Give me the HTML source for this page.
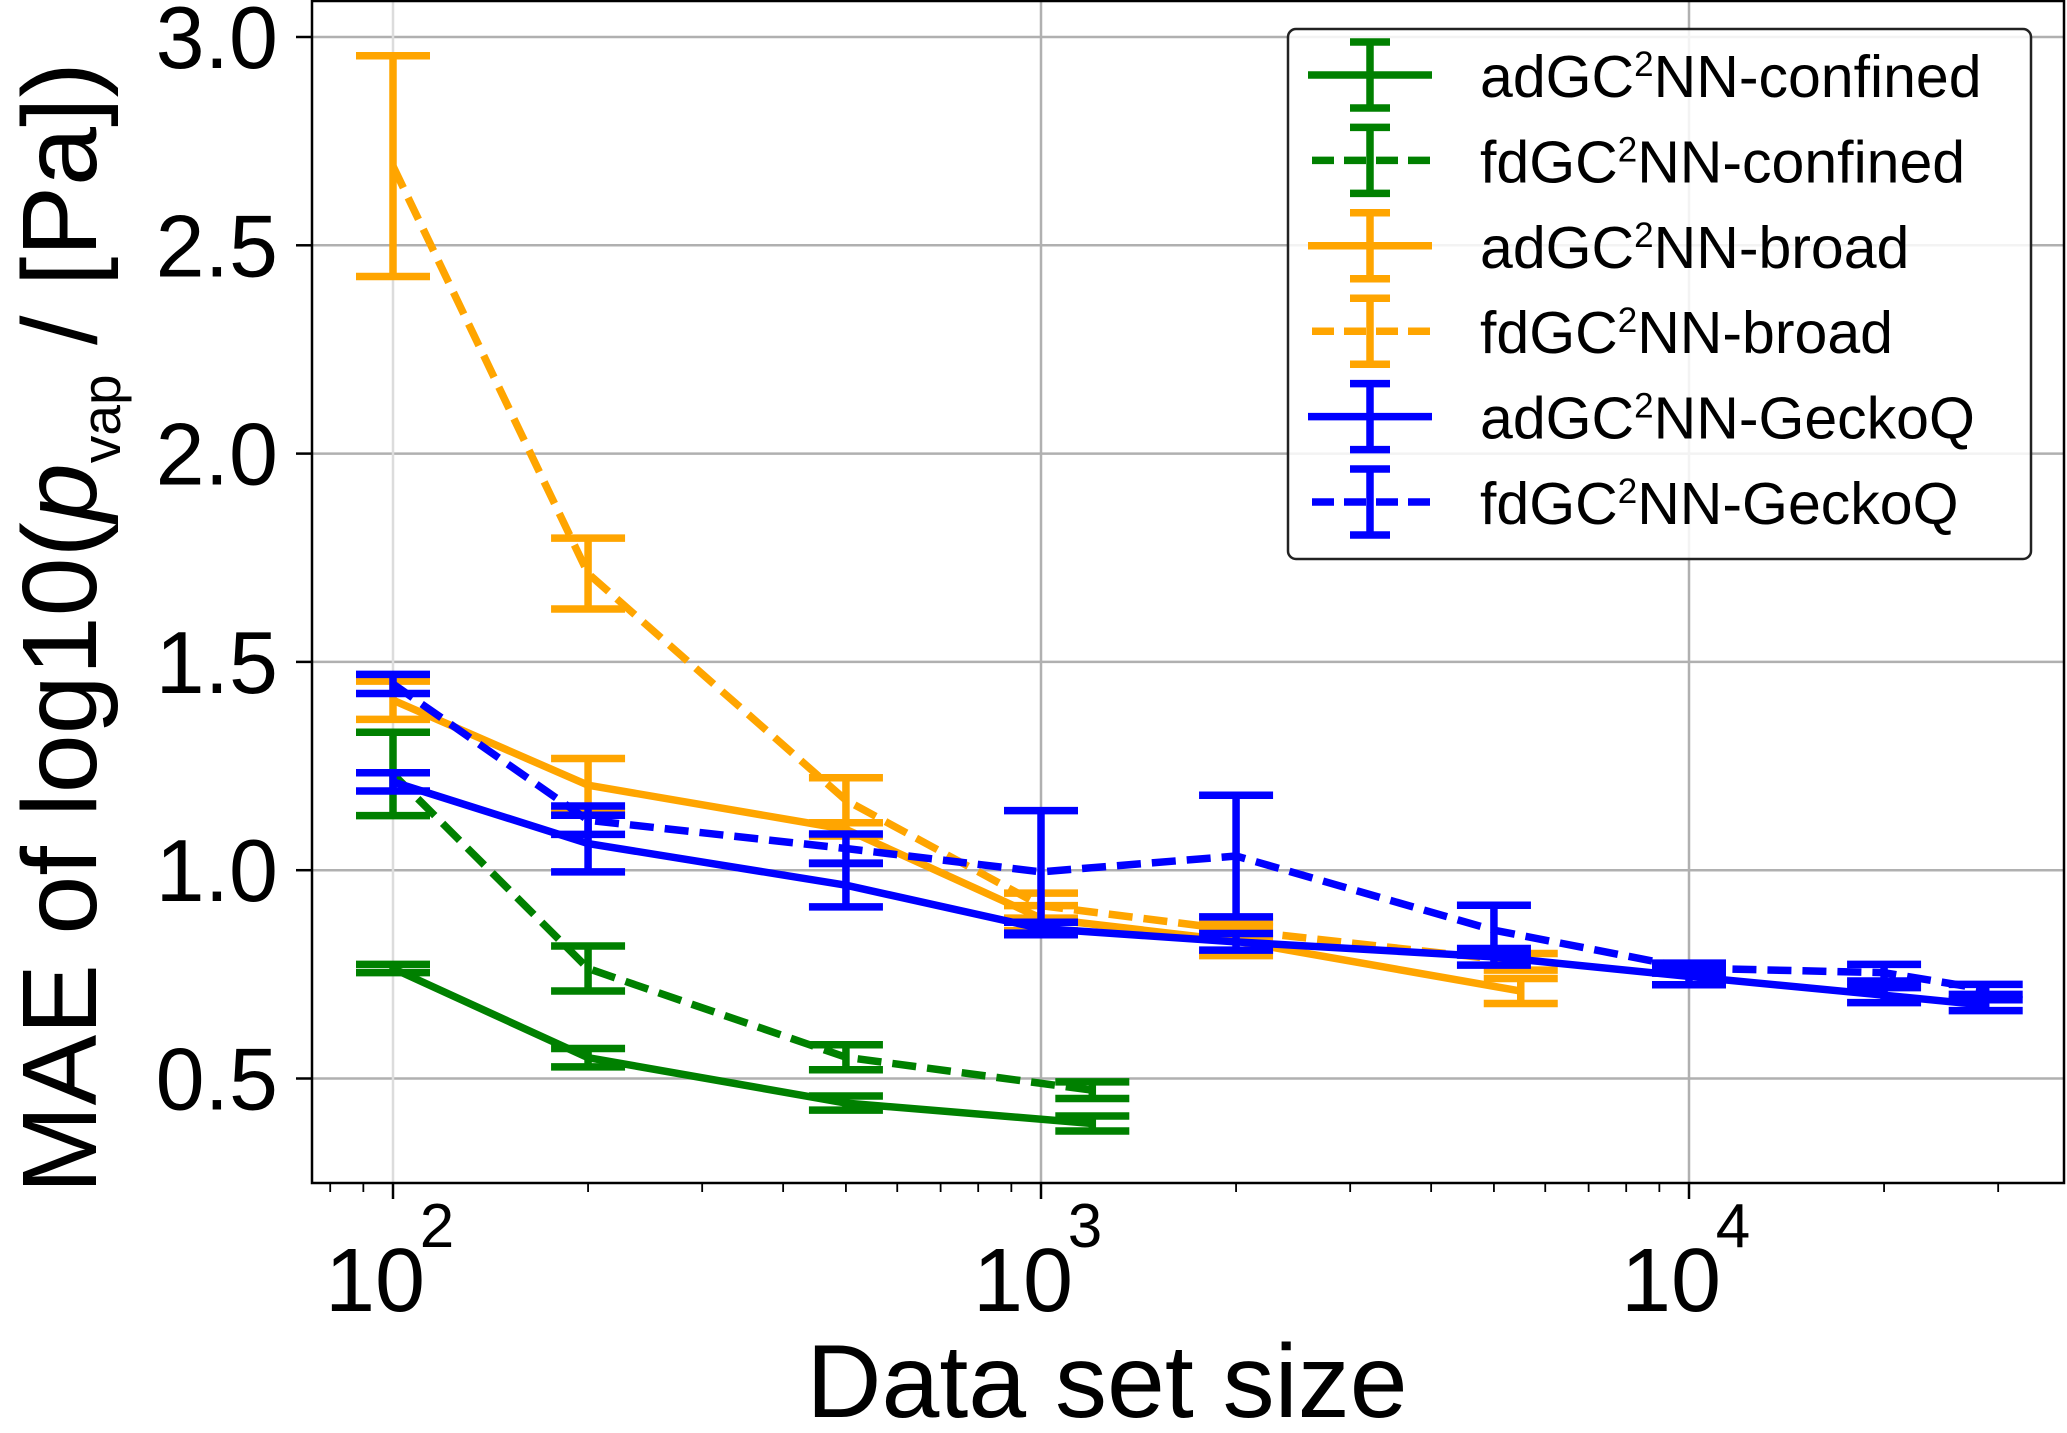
<!DOCTYPE html>
<html><head><meta charset="utf-8"><style>
html,body{margin:0;padding:0;background:#fff;}
svg{display:block;font-family:"Liberation Sans",Arial,sans-serif;}
</style></head><body>
<svg id="chart" width="2067" height="1433" viewBox="0 0 2067 1433" xmlns="http://www.w3.org/2000/svg">
<g id="grid"></g>
<g id="series"></g>
<rect x="312" y="1" width="1752" height="1182" fill="none" stroke="#000" stroke-width="2.5"/>
<g id="ticks"></g>
<text x="1107" y="1417" font-size="104" text-anchor="middle">Data set size</text>
<text transform="translate(96,628) rotate(-90)" font-size="106" text-anchor="middle">MAE of log10(<tspan font-style="italic">p</tspan><tspan font-size="55" dy="24">vap</tspan><tspan dy="-24"> / [Pa])</tspan></text>
<g id="legend"></g>
</svg>
<script>
// ---- data ----
const xGreen = [100, 200, 500, 1200];
const xOrange = [100, 200, 500, 1000, 2000, 5500];
const xBlue = [100, 200, 500, 1000, 2000, 5000, 10000, 20000, 28700];
const adConfined = [0.764, 0.55, 0.441, 0.392];
const adConfinedErr = [0.01, 0.022, 0.017, 0.018];
const fdConfined = [1.231, 0.764, 0.551, 0.472];
const fdConfinedErr = [0.1, 0.054, 0.03, 0.02];
const adBroad = [1.408, 1.204, 1.098, 0.885, 0.83, 0.71];
const adBroadErr = [0.046, 0.064, 0.016, 0.03, 0.035, 0.03];
const fdBroad = [2.69, 1.712, 1.168, 0.915, 0.856, 0.78];
const fdBroadErr = [0.265, 0.085, 0.054, 0.03, 0.02, 0.02];
const adGecko = [1.212, 1.064, 0.964, 0.86, 0.828, 0.792, 0.745, 0.70, 0.676];
const adGeckoErr = [0.022, 0.068, 0.052, 0.015, 0.02, 0.02, 0.02, 0.018, 0.013];
const fdGecko = [1.447, 1.12, 1.052, 0.996, 1.034, 0.856, 0.765, 0.754, 0.714];
const fdGeckoErr = [0.023, 0.034, 0.035, 0.147, 0.146, 0.06, 0.012, 0.02, 0.012];
const yTicks = [0.5, 1.0, 1.5, 2.0, 2.5, 3.0];
const yTickLabels = ["0.5", "1.0", "1.5", "2.0", "2.5", "3.0"];
const xDecades = [2, 3, 4];
const legendLabels = ["confined", "confined", "broad", "broad", "GeckoQ", "GeckoQ"];
const legendPrefixes = ["ad", "fd", "ad", "fd", "ad", "fd"];

// ---- scales ----
const L = 312, R = 2064, T = 1, B = 1183;
function xs(n){ return 393 + Math.log10(n/100) * 648; }
function ys(v){ return 37 + (3.0 - v) * 416.6; }
const NS = "http://www.w3.org/2000/svg";
function mk(tag, attrs, parent){
  const e = document.createElementNS(NS, tag);
  for (const k in attrs) e.setAttribute(k, attrs[k]);
  parent.appendChild(e); return e;
}
const grid = document.getElementById('grid');
const ticks = document.getElementById('ticks');
const ser = document.getElementById('series');
const leg = document.getElementById('legend');
const LW = 7.5;

yTicks.forEach((v, i) => {
  const y = ys(v);
  const g = mk('line', {x1:L, x2:R, y1:y, y2:y, stroke:'#b0b0b0', 'stroke-width':2.5}, grid);
  
  
  const t = mk('line', {x1:L-16, x2:L, y1:y, y2:y, stroke:'#000', 'stroke-width':2.5}, ticks);
  
  
  const lb = mk('text', {x:278, y:y+31, 'font-size':88, 'text-anchor':'end'}, ticks);
  lb.textContent = yTickLabels[i];
  
  
});
xDecades.forEach(d => {
  const x = xs(Math.pow(10, d));
  const g = mk('line', {x1:x, x2:x, y1:T, y2:B, stroke: d===2 ? '#dcdcdc' : '#b0b0b0', 'stroke-width':2.5}, grid);
  
  
  const t = mk('line', {x1:x, x2:x, y1:B, y2:B+16, stroke:'#000', 'stroke-width':2.5}, ticks);
  
  
  const lb = mk('text', {x:x-18, y:1311, 'font-size':90, 'text-anchor':'middle'}, ticks);
  lb.textContent = '10';
  
  
  const ex = mk('text', {x:x+44, y:1247, 'font-size':62, 'text-anchor':'middle'}, ticks);
  ex.textContent = String(d);
  
  
});
for (let d = 1; d <= 4; d++){
  for (let m = 2; m <= 9; m++){
    const n = m * Math.pow(10, d);
    const x = xs(n);
    if (x < L || x > R) continue;
    const t = mk('line', {x1:x, x2:x, y1:B, y2:B+9, stroke:'#000', 'stroke-width':1.8}, ticks);
    
    
  }
}

function drawSeries(name, xsArr, vals, errs, color, dashed){
  const g = mk('g', {}, ser);
  
  
  const pts = xsArr.map((n, i) => xs(n) + ',' + ys(vals[i])).join(' ');
  const pl = mk('polyline', {points:pts, fill:'none', stroke:color, 'stroke-width':LW, 'stroke-linejoin':'round'}, g);
  if (dashed) pl.setAttribute('stroke-dasharray', '24 11');
  
  
  xsArr.forEach((n, i) => {
    const x = xs(n), y1 = ys(vals[i] + errs[i]), y2 = ys(vals[i] - errs[i]);
    const eb = mk('path', {d:`M${x},${y1}V${y2}M${x-37},${y1}H${x+37}M${x-37},${y2}H${x+37}`, stroke:color, 'stroke-width':LW, fill:'none'}, g);
    
    
  });
}
drawSeries('adgc2nn-confined', xGreen, adConfined, adConfinedErr, '#008000', false);
drawSeries('fdgc2nn-confined', xGreen, fdConfined, fdConfinedErr, '#008000', true);
drawSeries('adgc2nn-broad', xOrange, adBroad, adBroadErr, '#ffa500', false);
drawSeries('fdgc2nn-broad', xOrange, fdBroad, fdBroadErr, '#ffa500', true);
drawSeries('adgc2nn-geckoq', xBlue, adGecko, adGeckoErr, '#0000ff', false);
drawSeries('fdgc2nn-geckoq', xBlue, fdGecko, fdGeckoErr, '#0000ff', true);

const box = mk('rect', {x:1288, y:29, width:743, height:530, rx:8, fill:'#fff', 'fill-opacity':0.85, stroke:'#222', 'stroke-width':2.5}, leg);


const colors = ['#008000','#008000','#ffa500','#ffa500','#0000ff','#0000ff'];
legendLabels.forEach((lab, i) => {
  const y = 75 + i * 85.4;
  const c = colors[i];
  const g = mk('g', {}, leg);
  
  
  const ln = mk('line', {x1:1308, x2:1432, y1:y, y2:y, stroke:c, 'stroke-width':LW}, g);
  if (i % 2 === 1) { ln.setAttribute('stroke-dasharray', '22 10'); ln.setAttribute('x1', 1312); }
  
  
  const eb = mk('path', {d:`M1370,${y-33}V${y+33}M1350,${y-33}H1390M1350,${y+33}H1390`, stroke:c, 'stroke-width':LW, fill:'none'}, g);
  
  
  const tx = mk('text', {x:1480, y:y+22, 'font-size':59}, g);
  
  
  const a = document.createElementNS(NS, 'tspan'); a.textContent = legendPrefixes[i] + 'GC'; tx.appendChild(a);
  const s = document.createElementNS(NS, 'tspan'); s.textContent = '2'; s.setAttribute('font-size', '35'); s.setAttribute('dy', '-21'); tx.appendChild(s);
  const b = document.createElementNS(NS, 'tspan'); b.textContent = 'NN-' + lab; b.setAttribute('dy', '21'); tx.appendChild(b);
});
</script>
</body></html>
